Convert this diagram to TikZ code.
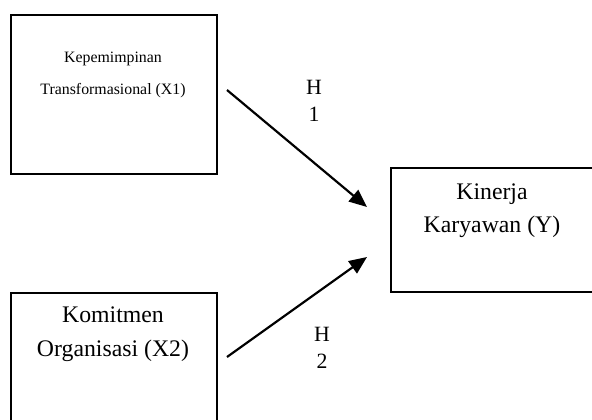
\documentclass[tikz,border=0pt]{standalone}
\usepackage{fontspec}
\setmainfont{Liberation Serif}
\usetikzlibrary{arrows.meta}

\newcommand{\pxl}{0.01775cm}

\begin{document}
\begin{tikzpicture}[x=\pxl, y=-\pxl,
  box/.style={draw, line width=0.9pt, inner sep=0pt, anchor=north west},
  arr/.style={line width=1.1pt, -{Triangle[length=9pt, width=7.5pt]}},
  lbl/.style={align=center, inner sep=0pt}]

\clip (0,0) rectangle (592,419);

% variabel
\node[box, minimum width=206*\pxl, minimum height=159*\pxl] (x1) at (10,14) {};
\node[box, minimum width=206*\pxl, minimum height=140*\pxl] (x2) at (10,292) {};
\node[box, minimum width=205*\pxl, minimum height=124*\pxl] (y) at (390,167) {};

\node[lbl, font=\fontsize{8}{16.2}\selectfont] (x1text) at (113,75.3)
  {Kepemimpinan\\Transformasional (X1)};
\node[lbl, font=\fontsize{12}{17.2}\selectfont] (x2text) at (113,334.5)
  {Komitmen\\Organisasi (X2)};
\node[lbl, font=\fontsize{12}{16.7}\selectfont] (ytext) at (492,211)
  {Kinerja\\Karyawan (Y)};

% hipotesis
\coordinate (h1a) at (227,90);
\coordinate (h1b) at (367,207);
\coordinate (h2a) at (227,357);
\coordinate (h2b) at (367,257);

\draw[arr] (h1a) -- (h1b);
\draw[arr] (h2a) -- (h2b);

\node[lbl, font=\fontsize{11}{13.6}\selectfont] (h1) at (314,101.3) {H\\1};
\node[lbl, font=\fontsize{11}{13.6}\selectfont] (h2) at (322,348.3) {H\\2};

\end{tikzpicture}
\end{document}
